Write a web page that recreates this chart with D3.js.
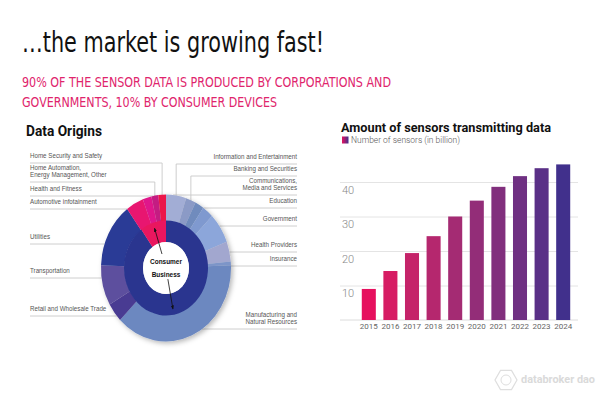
<!DOCTYPE html>
<html>
<head>
<meta charset="utf-8">
<script src="https://cdn.jsdelivr.net/npm/d3@7"></script>
<style>
  body { margin: 0; background: #fff; }
  svg { display: block; }
</style>
</head>
<body>
<div id="chart"></div>
<script>
// outer ring: sectors of the sensor data origin (share in %)
const sectors = ['Information and Entertainment', 'Banking and Securities', 'Communications,|Media and Services', 'Education', 'Government', 'Health Providers', 'Insurance', 'Manufacturing and|Natural Resources', 'Retail and Wholesale Trade', 'Transportation', 'Utilities', 'Automotive infotainment', 'Health and Fitness', 'Home Automation,|Energy Management, Other', 'Home Security and Safety']
const sectorShares = [5.0, 2.5, 2.2, 2.8, 6.7, 4.4, 0.8, 38.1, 4.2, 8.9, 14.2, 4.4, 2.2, 1.7, 1.9]
const sectorColors = ['#a2add5', '#8b9ac6', '#6f8bbd', '#7f99cf', '#8ca6da', '#a2a7cf', '#7d95c8', '#6c88c0', '#4a3a92', '#5d509e', '#293a96', '#e8156f', '#df168b', '#c41c82', '#ec1448']

// inner ring
const groups = ['Business', 'Consumer']
const groupShares = [90, 10]
const groupColors = ['#29358f', '#e9135e']

// bar chart
const years = ['2015', '2016', '2017', '2018', '2019', '2020', '2021', '2022', '2023', '2024']
const sensors = [9.0, 14.2, 19.4, 24.3, 30.0, 34.6, 38.6, 41.7, 44.0, 45.1]
const yTicks = [10, 20, 30, 40]

// label placement for the donut (label baseline y, side)
const labelY = {
  'Home Security and Safety': 158,
  'Home Automation,|Energy Management, Other': 170,
  'Health and Fitness': 191,
  'Automotive infotainment': 204,
  'Utilities': 239,
  'Transportation': 273,
  'Retail and Wholesale Trade': 311,
  'Information and Entertainment': 159,
  'Banking and Securities': 171,
  'Communications,|Media and Services': 183,
  'Education': 203,
  'Government': 221,
  'Health Providers': 247,
  'Insurance': 261,
  'Manufacturing and|Natural Resources': 317
}

const W = 613
const H = 396

const svg = d3.select('#chart').append('svg')
  .attr('width', W)
  .attr('height', H)

const defs = svg.append('defs')
const grad = defs.append('linearGradient').attr('id', 'legendGrad')
grad.append('stop').attr('offset', '0%').attr('stop-color', '#e6105e')
grad.append('stop').attr('offset', '100%').attr('stop-color', '#41308c')

const shadow = defs.append('filter').attr('id', 'shadow')
  .attr('x', '-20%').attr('y', '-20%').attr('width', '150%').attr('height', '150%')
shadow.append('feDropShadow')
  .attr('dx', 2).attr('dy', 2).attr('stdDeviation', 2.5)
  .attr('flood-color', '#000').attr('flood-opacity', 0.28)

defs.append('marker')
  .attr('id', 'arrow')
  .attr('viewBox', '0 0 10 10')
  .attr('refX', 9).attr('refY', 5)
  .attr('markerWidth', 5).attr('markerHeight', 5)
  .attr('orient', 'auto')
  .append('path')
  .attr('d', 'M0,1 L10,5 L0,9 Z')
  .attr('fill', '#111')

// headings
svg.append('text')
  .attr('x', 22).attr('y', 52)
  .attr('textLength', 302).attr('lengthAdjust', 'spacingAndGlyphs')
  .style('font-family', 'DejaVu Sans, sans-serif')
  .style('font-size', '28px')
  .style('fill', '#111')
  .text('…the market is growing fast!')

const subtitle = ['90% OF THE SENSOR DATA IS PRODUCED BY CORPORATIONS AND', 'GOVERNMENTS, 10% BY CONSUMER DEVICES']
const subLen = [369, 255]
subtitle.forEach((s, i) => {
  svg.append('text')
    .attr('x', 22).attr('y', 87 + i * 20)
    .attr('textLength', subLen[i]).attr('lengthAdjust', 'spacingAndGlyphs')
    .style('font-family', 'DejaVu Sans, sans-serif')
    .style('font-size', '14px')
    .style('fill', '#e0246c')
    .text(s)
})

svg.append('text')
  .attr('x', 26).attr('y', 136)
  .attr('textLength', 76).attr('lengthAdjust', 'spacingAndGlyphs')
  .style('font-family', 'Roboto, sans-serif')
  .style('font-weight', 700)
  .style('font-size', '14px')
  .style('fill', '#111')
  .text('Data Origins')

// ---------------- donut ----------------
const cx = 166
const cy = 268
const sy = 1.13
const rOuter = 65
const rMid = 42
const rHole = 23

const pie = d3.pie().sort(null).value((d) => d.value)
const outerData = pie(sectors.map((s, i) => ({ key: s, value: sectorShares[i], color: sectorColors[i] })))
const innerData = pie(groups.map((g, i) => ({ key: g, value: groupShares[i], color: groupColors[i] })))

const ellX = (a, r) => cx + r * Math.sin(a)
const ellY = (a, r) => cy - sy * r * Math.cos(a)

// leader lines + labels
const leaders = svg.append('g')
const labelG = svg.append('g')
  .style('font-family', 'Liberation Sans, Arial, sans-serif')
  .style('font-size', '7.4px')
  .style('fill', '#555')

outerData.forEach((d) => {
  const key = d.data.key
  const ly = labelY[key]
  const lines = key.split('|')
  const right = (d.startAngle + d.endAngle) / 2 < Math.PI
  const uy = ly + 5 + (lines.length - 1) * 7
  const mid = (d.startAngle + d.endAngle) / 2
  let pts
  if (uy < cy - sy * rOuter) {
    // above the ring: elbow down to the sector
    const px = ellX(mid, rOuter)
    const py = ellY(mid, rOuter)
    pts = right ? [[297, uy], [px, uy], [px, py + 2]] : [[30, uy], [px, uy], [px, py + 2]]
  } else {
    const dy = (uy - cy) / (sy * rOuter)
    const px = cx + (right ? 1 : -1) * rOuter * Math.sqrt(Math.max(0, 1 - dy * dy))
    pts = right ? [[297, uy], [px, uy]] : [[30, uy], [px, uy]]
  }
  leaders.append('path')
    .attr('d', d3.line()(pts))
    .attr('fill', 'none')
    .attr('stroke', '#c8c8c8')
    .attr('stroke-width', 0.9)

  const t = labelG.append('text')
    .attr('transform', 'translate(' + [right ? 297 : 30, ly] + ') scale(0.84,1)')
    .attr('text-anchor', right ? 'end' : 'start')
  lines.forEach((l, i) => {
    t.append('tspan').attr('x', 0).attr('dy', i === 0 ? 0 : 7.2).text(l)
  })
})

const donut = svg.append('g')
  .attr('filter', 'url(#shadow)')
  .append('g')
  .attr('transform', 'translate(' + [cx, cy] + ') scale(1,' + sy + ')')

donut.selectAll('path.outer')
  .data(outerData)
  .enter()
  .append('path')
  .attr('class', 'outer')
  .attr('d', d3.arc().innerRadius(rMid - 0.5).outerRadius(rOuter))
  .attr('fill', (d) => d.data.color)

donut.selectAll('path.inner')
  .data(innerData)
  .enter()
  .append('path')
  .attr('class', 'inner')
  .attr('d', d3.arc().innerRadius(rHole).outerRadius(rMid))
  .attr('fill', (d) => d.data.color)

donut.append('circle').attr('r', rHole).attr('fill', '#fff')

// center labels with arrows
const consumerA = (innerData[1].startAngle + innerData[1].endAngle) / 2
const businessA = Math.PI * 0.94
svg.append('line')
  .attr('x1', ellX(consumerA, 13)).attr('y1', ellY(consumerA, 13))
  .attr('x2', ellX(consumerA, 37)).attr('y2', ellY(consumerA, 37))
  .attr('stroke', '#111').attr('stroke-width', 0.8)
  .attr('marker-end', 'url(#arrow)')
svg.append('line')
  .attr('x1', ellX(businessA, 10)).attr('y1', ellY(businessA, 10))
  .attr('x2', ellX(businessA, 37)).attr('y2', ellY(businessA, 37))
  .attr('stroke', '#111').attr('stroke-width', 0.8)
  .attr('marker-end', 'url(#arrow)')

const centerG = svg.append('g')
  .style('font-family', 'Liberation Sans, Arial, sans-serif')
  .style('font-weight', 700)
  .style('font-size', '7.6px')
  .style('fill', '#111')
  .attr('text-anchor', 'middle')
centerG.append('text')
  .attr('transform', 'translate(' + [cx, cy - 4] + ') scale(0.85,1)')
  .text('Consumer')
centerG.append('text')
  .attr('transform', 'translate(' + [cx, cy + 9] + ') scale(0.85,1)')
  .text('Business')

// ---------------- bar chart ----------------
const x = d3.scaleBand()
  .domain(years)
  .range([358, 574])
  .paddingInner(0.35)
  .paddingOuter(0.175)

const y = d3.scaleLinear()
  .domain([0, 50])
  .range([320, 147.5])

const barColor = d3.scaleLinear()
  .domain([0, years.length - 1])
  .range(['#e6105e', '#41308c'])
  .interpolate(d3.interpolateLab)

svg.append('text')
  .attr('x', 341).attr('y', 132)
  .attr('textLength', 210).attr('lengthAdjust', 'spacingAndGlyphs')
  .style('font-family', 'Roboto, sans-serif')
  .style('font-weight', 700)
  .style('font-size', '13.5px')
  .style('fill', '#111')
  .text('Amount of sensors transmitting data')

svg.append('rect')
  .attr('x', 342).attr('y', 136.5)
  .attr('width', 6.5).attr('height', 7)
  .attr('fill', 'url(#legendGrad)')
svg.append('text')
  .attr('x', 351).attr('y', 143)
  .attr('textLength', 109).attr('lengthAdjust', 'spacingAndGlyphs')
  .style('font-family', 'Roboto, sans-serif')
  .style('font-weight', 300)
  .style('font-size', '9.5px')
  .style('fill', '#555')
  .text('Number of sensors (in billion)')

const yAxis = svg.append('g')
  .attr('transform', 'translate(340,0)')
  .call(d3.axisRight(y).tickValues(yTicks).tickSize(238))
yAxis.select('.domain').remove()
yAxis.selectAll('.tick line').attr('stroke', '#e4e4e4')
yAxis.selectAll('.tick text')
  .attr('x', 2)
  .attr('dy', 11)
  .style('font-family', 'Roboto, sans-serif')
  .style('font-weight', 300)
  .style('font-size', '11px')
  .style('fill', '#888')

svg.append('line')
  .attr('x1', 340).attr('x2', 578)
  .attr('y1', y(0)).attr('y2', y(0))
  .attr('stroke', '#dcdcdc')

svg.selectAll('rect.bar')
  .data(sensors)
  .enter()
  .append('rect')
  .attr('class', 'bar')
  .attr('x', (d, i) => x(years[i]))
  .attr('y', (d) => y(d))
  .attr('width', x.bandwidth())
  .attr('height', (d) => y(0) - y(d))
  .attr('fill', (d, i) => barColor(i))

const xAxis = svg.append('g')
  .attr('transform', 'translate(0,' + y(0) + ')')
  .call(d3.axisBottom(x).tickSize(0).tickPadding(3))
xAxis.select('.domain').remove()
xAxis.selectAll('.tick text')
  .style('font-family', 'Roboto, sans-serif')
  .style('font-size', '8px')
  .style('fill', '#666')

// ---------------- watermark ----------------
const wm = svg.append('g').attr('transform', 'translate(506,380)')
const hex = d3.range(6).map((i) => {
  const a = Math.PI / 3 * i
  return [11 * Math.cos(a), 11 * Math.sin(a)]
})
wm.append('path')
  .attr('d', d3.line()(hex) + 'Z')
  .attr('fill', 'none')
  .attr('stroke', '#dedede')
  .attr('stroke-width', 1.2)
wm.append('circle').attr('r', 5).attr('fill', 'none').attr('stroke', '#dedede')
svg.append('text')
  .attr('x', 521).attr('y', 383)
  .attr('textLength', 74).attr('lengthAdjust', 'spacingAndGlyphs')
  .style('font-family', 'Roboto, sans-serif')
  .style('font-weight', 700)
  .style('font-size', '11px')
  .style('fill', '#dadada')
  .text('databroker dao')
</script>
</body>
</html>
